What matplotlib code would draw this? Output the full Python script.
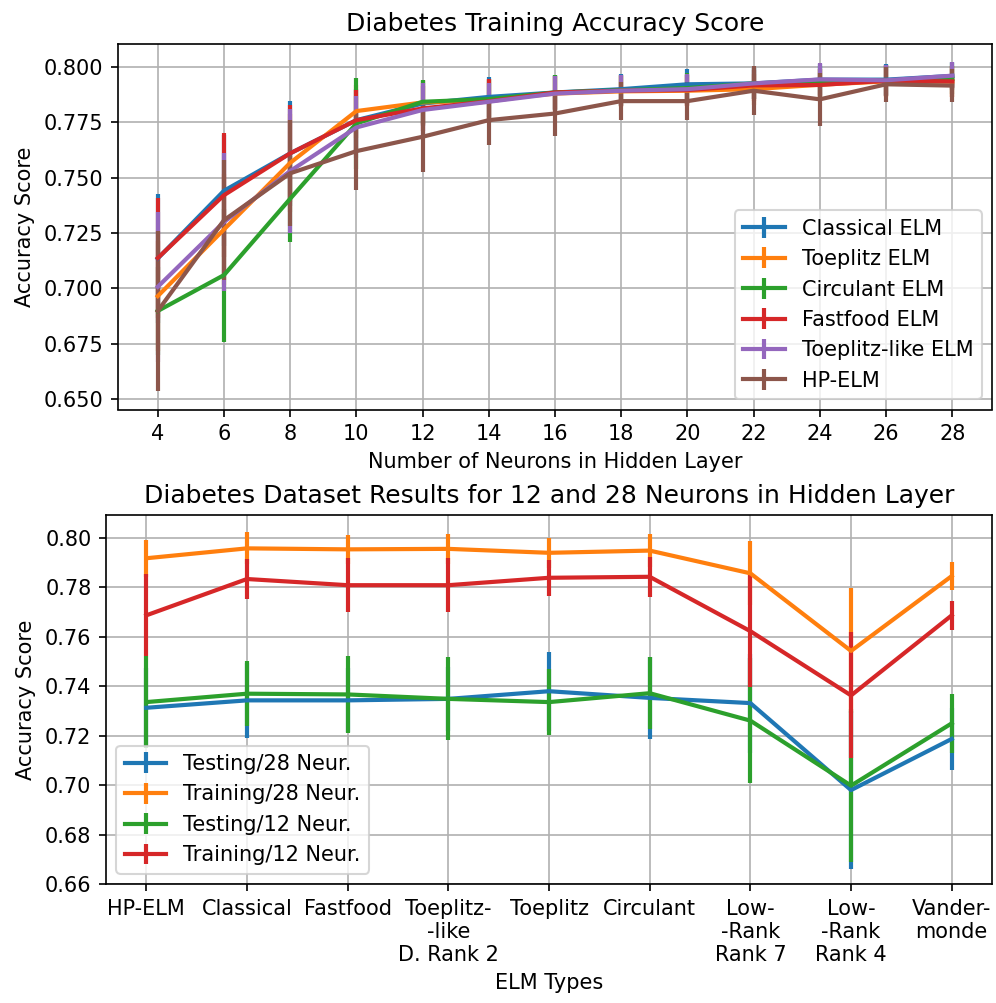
import matplotlib as mpl
mpl.use('Agg')
from matplotlib import pyplot as plt

# dpi for figure
my_dpi = 150

# ---- top chart: training accuracy vs number of hidden neurons ----
neurons = [4, 6, 8, 10, 12, 14, 16, 18, 20, 22, 24, 26, 28]
top_yticks = [0.650, 0.675, 0.700, 0.725, 0.750, 0.775, 0.800]

classical = [0.7135, 0.7441, 0.7610, 0.7760, 0.7835, 0.7865, 0.7885, 0.7900, 0.7922, 0.7926, 0.7943, 0.7943, 0.7960]
classical_err = [0.029, 0.025, 0.0236, 0.014, 0.010, 0.009, 0.008, 0.007, 0.007, 0.007, 0.007, 0.007, 0.0064]

toeplitz = [0.6965, 0.7266, 0.7567, 0.7801, 0.7840, 0.7850, 0.7880, 0.7890, 0.7893, 0.7900, 0.7920, 0.7935, 0.7934]
toeplitz_err = [0.025, 0.025, 0.022, 0.012, 0.010, 0.009, 0.008, 0.007, 0.007, 0.007, 0.007, 0.007, 0.007]

circulant = [0.6898, 0.7060, 0.7405, 0.7745, 0.7843, 0.7855, 0.7885, 0.7895, 0.7905, 0.7926, 0.7935, 0.7940, 0.7946]
circulant_err = [0.020, 0.030, 0.0195, 0.0207, 0.010, 0.009, 0.008, 0.007, 0.007, 0.007, 0.007, 0.007, 0.007]

fastfood = [0.7137, 0.7421, 0.7610, 0.7760, 0.7813, 0.7845, 0.7885, 0.7893, 0.7896, 0.7917, 0.7919, 0.7938, 0.7935]
fastfood_err = [0.027, 0.028, 0.022, 0.0136, 0.010, 0.010, 0.0075, 0.007, 0.007, 0.007, 0.007, 0.007, 0.007]

toeplitz_like = [0.7007, 0.7300, 0.7530, 0.7727, 0.7806, 0.7843, 0.7880, 0.7893, 0.7900, 0.7926, 0.7944, 0.7940, 0.7961]
toeplitz_like_err = [0.034, 0.031, 0.028, 0.014, 0.012, 0.0085, 0.008, 0.007, 0.007, 0.007, 0.0075, 0.007, 0.006]

hp_elm = [0.6898, 0.7308, 0.7520, 0.7620, 0.7685, 0.7760, 0.7790, 0.7846, 0.7846, 0.7893, 0.7854, 0.7922, 0.7916]
hp_elm_err = [0.036, 0.027, 0.024, 0.0176, 0.016, 0.011, 0.010, 0.0086, 0.0086, 0.011, 0.012, 0.008, 0.0076]

top_series = [classical, toeplitz, circulant, fastfood, toeplitz_like, hp_elm]
top_errors = [classical_err, toeplitz_err, circulant_err, fastfood_err, toeplitz_like_err, hp_elm_err]
top_legends = ["Classical ELM", "Toeplitz ELM", "Circulant ELM", "Fastfood ELM", "Toeplitz-like ELM", "HP-ELM"]

# ---- bottom chart: results per ELM type ----
elm_types = ["HP-ELM", "Classical", "Fastfood", "Toeplitz-\n-like\nD. Rank 2", "Toeplitz",
             "Circulant", "Low-\n-Rank\nRank 7", "Low-\n-Rank\nRank 4", "Vander-\nmonde"]

test_28 = [0.7313, 0.7343, 0.7343, 0.7349, 0.7380, 0.7353, 0.7332, 0.6980, 0.7187]
test_28_err = [0.016, 0.0152, 0.013, 0.013, 0.016, 0.0166, 0.020, 0.032, 0.0126]

train_28 = [0.7918, 0.7958, 0.7954, 0.7956, 0.7940, 0.7949, 0.7857, 0.7543, 0.7846]
train_28_err = [0.0074, 0.0065, 0.0058, 0.0060, 0.0060, 0.0067, 0.013, 0.0253, 0.0057]

test_12 = [0.7336, 0.7370, 0.7367, 0.7349, 0.7336, 0.7372, 0.7261, 0.6998, 0.7250]
test_12_err = [0.0185, 0.0132, 0.0155, 0.0168, 0.0135, 0.0146, 0.0254, 0.031, 0.012]

train_12 = [0.7687, 0.7834, 0.7809, 0.7809, 0.7839, 0.7843, 0.7623, 0.7363, 0.7687]
train_12_err = [0.0166, 0.008, 0.011, 0.011, 0.0073, 0.0081, 0.0226, 0.0255, 0.006]

bottom_series = [test_28, train_28, test_12, train_12]
bottom_errors = [test_28_err, train_28_err, test_12_err, train_12_err]
bottom_legends = ["Testing/28 Neur.", "Training/28 Neur.", "Testing/12 Neur.", "Training/12 Neur."]

colo = ['tab:blue', 'tab:orange', 'tab:green', 'tab:red', 'tab:purple', 'tab:brown']

fig = plt.figure(figsize=(996/my_dpi, 1003/my_dpi), dpi=my_dpi)

# top axes
ax1 = fig.add_axes([118/996, 1-409.5/1003, (992-118)/996, (409.5-44)/1003])
for i in range(len(top_series)):
  ax1.errorbar(neurons, top_series[i], yerr=top_errors[i], color=colo[i], linewidth=2, elinewidth=2, label=top_legends[i])
ax1.set_xticks(neurons)
ax1.set_yticks(top_yticks)
ax1.set_yticklabels(['%.3f' % t for t in top_yticks])
ax1.set_ylim([0.6453, 0.8104])
ax1.set_xlabel('Number of Neurons in Hidden Layer')
ax1.set_ylabel('Accuracy Score')
ax1.set_title('Diabetes Training Accuracy Score', fontsize=12)
ax1.grid(True)
ax1.legend(loc='lower right')

# bottom axes
ax2 = fig.add_axes([106/996, 1-884/1003, (992-106)/996, (884-515)/1003])
xpos = list(range(len(elm_types)))
for i in range(len(bottom_series)):
  ax2.errorbar(xpos, bottom_series[i], yerr=bottom_errors[i], color=colo[i], linewidth=2, elinewidth=2, label=bottom_legends[i])
ax2.set_xticks(xpos)
ax2.set_xticklabels(elm_types)
ax2.set_ylim([0.66, 0.8093])
ax2.set_xlabel('ELM Types')
ax2.set_ylabel('Accuracy Score')
ax2.set_title('Diabetes Dataset Results for 12 and 28 Neurons in Hidden Layer', fontsize=12)
ax2.grid(True)
ax2.legend(loc='lower left')

plt.savefig('out.png', dpi=my_dpi)
